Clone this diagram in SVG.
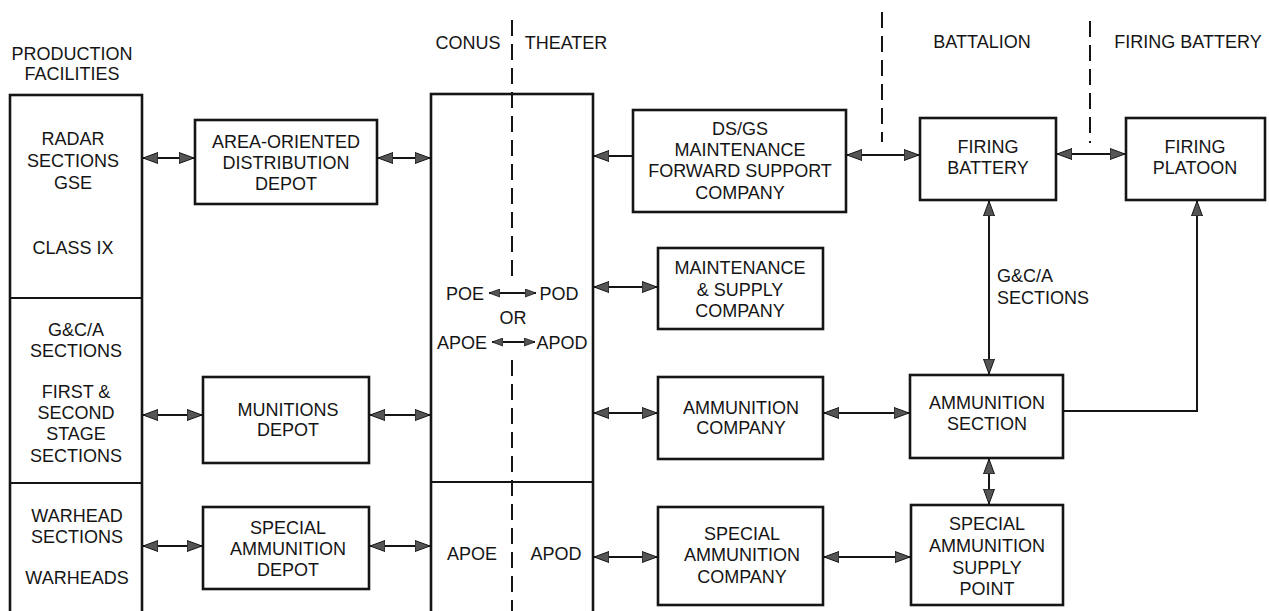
<svg xmlns="http://www.w3.org/2000/svg" width="1269" height="611" viewBox="0 0 1269 611">
<style>
.t{font-family:"Liberation Sans",Arial,sans-serif;font-size:18px;fill:#151515;text-anchor:middle}
.l{text-anchor:start}
.b{fill:#fff;stroke:#151515;stroke-width:2.6}
.c{fill:none;stroke:#151515;stroke-width:2}
.d{fill:none;stroke:#151515;stroke-width:2;stroke-dasharray:16 8}
.dv{fill:none;stroke:#151515;stroke-width:2}
.a2{marker-start:url(#ah);marker-end:url(#ah)}
.a1{marker-end:url(#ah)}
.s2{marker-start:url(#sh);marker-end:url(#sh)}
</style>
<defs>
<marker id="ah" markerUnits="userSpaceOnUse" markerWidth="16" markerHeight="12" refX="15" refY="6" orient="auto-start-reverse">
<path d="M0,0.5 L15,6 L0,11.5 Z" fill="#555" stroke="#151515" stroke-width="1"/>
</marker>
<marker id="sh" markerUnits="userSpaceOnUse" markerWidth="12" markerHeight="9" refX="11" refY="4.5" orient="auto-start-reverse">
<path d="M0,0.5 L11,4.5 L0,8.5 Z" fill="#555" stroke="#151515" stroke-width="0.8"/>
</marker>
</defs>

<g id="headers">
<text class="t" x="72" y="60">PRODUCTION</text>
<text class="t" x="72" y="80">FACILITIES</text>
<text class="t" x="468" y="49">CONUS</text>
<text class="t" x="566" y="49">THEATER</text>
<text class="t" x="982" y="48">BATTALION</text>
<text class="t" x="1188" y="48">FIRING BATTERY</text>
</g>

<g id="dividers">
<path class="d" d="M512,20 V276"/>
<path class="d" d="M512,360 V611"/>
<path class="d" d="M882,12 V142"/>
<path class="d" d="M1090,21 V143"/>
</g>

<g id="production">
<rect class="b" x="10" y="95" width="132" height="530"/>
<path class="dv" d="M10,298 H142 M10,483 H142"/>
<text class="t" x="73" y="144.5">RADAR</text>
<text class="t" x="73" y="166.5">SECTIONS</text>
<text class="t" x="73" y="188.5">GSE</text>
<text class="t" x="73" y="253.5">CLASS IX</text>
<text class="t" x="76" y="335.5">G&amp;C/A</text>
<text class="t" x="76" y="356.5">SECTIONS</text>
<text class="t" x="76" y="397.5">FIRST &amp;</text>
<text class="t" x="76" y="418.5">SECOND</text>
<text class="t" x="76" y="439.5">STAGE</text>
<text class="t" x="76" y="461.5">SECTIONS</text>
<text class="t" x="77" y="521.5">WARHEAD</text>
<text class="t" x="77" y="542.5">SECTIONS</text>
<text class="t" x="77" y="583.5">WARHEADS</text>
</g>

<g id="area-depot">
<rect class="b" x="195" y="120" width="182" height="84"/>
<text class="t" x="286" y="147.5">AREA-ORIENTED</text>
<text class="t" x="286" y="168.5">DISTRIBUTION</text>
<text class="t" x="286" y="189.5">DEPOT</text>
</g>

<g id="munitions-depot">
<rect class="b" x="203" y="377" width="166" height="86"/>
<text class="t" x="288" y="415.5">MUNITIONS</text>
<text class="t" x="288" y="435.5">DEPOT</text>
</g>

<g id="special-ammo-depot">
<rect class="b" x="203" y="507" width="166" height="82"/>
<text class="t" x="288" y="533.5">SPECIAL</text>
<text class="t" x="288" y="554.5">AMMUNITION</text>
<text class="t" x="288" y="575.5">DEPOT</text>
</g>

<g id="port">
<rect class="b" x="431" y="94" width="162" height="530" fill="none" style="fill:none"/>
<path class="dv" d="M431,482 H593"/>
<text class="t" x="465" y="299.5">POE</text>
<text class="t" x="559" y="299.5">POD</text>
<text class="t" x="513" y="323.5">OR</text>
<text class="t" x="462" y="348.5">APOE</text>
<text class="t" x="562" y="348.5">APOD</text>
<text class="t" x="472" y="559.5">APOE</text>
<text class="t" x="556" y="559.5">APOD</text>
<path class="c s2" d="M489,293 H536"/>
<path class="c s2" d="M492,342 H535"/>
</g>

<g id="dsgs">
<rect class="b" x="633" y="110" width="213" height="102"/>
<text class="t" x="740" y="134.5">DS/GS</text>
<text class="t" x="740" y="155.5">MAINTENANCE</text>
<text class="t" x="740" y="176.5">FORWARD SUPPORT</text>
<text class="t" x="740" y="198.5">COMPANY</text>
</g>

<g id="maint-supply">
<rect class="b" x="658" y="248" width="165" height="81"/>
<text class="t" x="740" y="273.5">MAINTENANCE</text>
<text class="t" x="740" y="295.5">&amp; SUPPLY</text>
<text class="t" x="740" y="316.5">COMPANY</text>
</g>

<g id="ammo-company">
<rect class="b" x="658" y="377" width="165" height="82"/>
<text class="t" x="741" y="413.5">AMMUNITION</text>
<text class="t" x="741" y="433.5">COMPANY</text>
</g>

<g id="special-ammo-company">
<rect class="b" x="658" y="507" width="165" height="98"/>
<text class="t" x="742" y="539.5">SPECIAL</text>
<text class="t" x="742" y="560.5">AMMUNITION</text>
<text class="t" x="742" y="582.5">COMPANY</text>
</g>

<g id="firing-battery">
<rect class="b" x="920" y="118" width="136" height="82"/>
<text class="t" x="988" y="152.5">FIRING</text>
<text class="t" x="988" y="173.5">BATTERY</text>
</g>

<g id="firing-platoon">
<rect class="b" x="1126" y="118" width="139" height="82"/>
<text class="t" x="1195" y="152.5">FIRING</text>
<text class="t" x="1195" y="173.5">PLATOON</text>
</g>

<g id="ammo-section">
<rect class="b" x="910" y="375" width="153" height="83"/>
<text class="t" x="987" y="408.5">AMMUNITION</text>
<text class="t" x="987" y="429.5">SECTION</text>
</g>

<g id="special-supply-point">
<rect class="b" x="911" y="505" width="152" height="100"/>
<text class="t" x="987" y="529.5">SPECIAL</text>
<text class="t" x="987" y="551.5">AMMUNITION</text>
<text class="t" x="987" y="573.5">SUPPLY</text>
<text class="t" x="987" y="594.5">POINT</text>
</g>

<g id="connectors">
<path class="c a2" d="M143,158 H194"/>
<path class="c a2" d="M378,158 H430"/>
<path class="c a2" d="M143,415 H202"/>
<path class="c a2" d="M370,415 H430"/>
<path class="c a2" d="M143,546 H202"/>
<path class="c a2" d="M370,546 H430"/>
<path class="c a1" d="M633,156 H594"/>
<path class="c a2" d="M594,287 H657"/>
<path class="c a2" d="M594,413 H657"/>
<path class="c a2" d="M594,557 H657"/>
<path class="c a2" d="M847,155 H919"/>
<path class="c a2" d="M1057,154 H1125"/>
<path class="c a2" d="M989,201 V374"/>
<path class="c a2" d="M824,413 H909"/>
<path class="c a2" d="M824,557 H910"/>
<path class="c a2" d="M989,459 V504"/>
<path class="c a1" d="M1064,411 H1197 V201"/>
<text class="t l" x="997" y="281.5">G&amp;C/A</text>
<text class="t l" x="997" y="303.5">SECTIONS</text>
</g>
</svg>
